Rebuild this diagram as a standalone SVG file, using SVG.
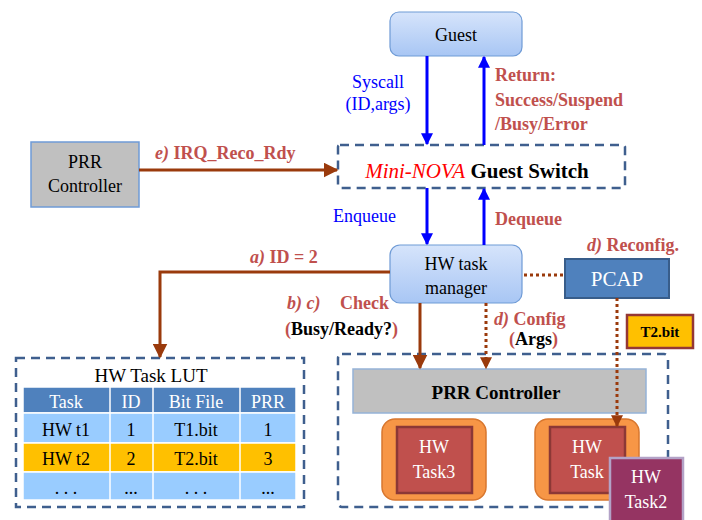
<svg xmlns="http://www.w3.org/2000/svg" width="702" height="520" viewBox="0 0 702 520" font-family="'Liberation Serif', 'DejaVu Serif', serif">
<defs>
<linearGradient id="gb" x1="0" y1="0" x2="0" y2="1">
<stop offset="0" stop-color="#d6e4fb"/>
<stop offset="1" stop-color="#a8c6f4"/>
</linearGradient>
<marker id="ab" viewBox="0 0 10 10" refX="9" refY="5" markerWidth="4" markerHeight="4" orient="auto-start-reverse" markerUnits="strokeWidth">
<path d="M0,0 L10,5 L0,10 z" fill="#0000ff"/>
</marker>
<marker id="ar" viewBox="0 0 10 10" refX="9" refY="5" markerWidth="5" markerHeight="5" orient="auto" markerUnits="strokeWidth">
<path d="M0,0 L10,5 L0,10 z" fill="#9a3a0c"/>
</marker>
<marker id="ar2" viewBox="0 0 10 10" refX="9" refY="5" markerWidth="4" markerHeight="5" orient="auto" markerUnits="strokeWidth">
<path d="M0,0 L10,5 L0,10 z" fill="#9a3a0c"/>
</marker>
</defs>
<style>
text, tspan { font-family: 'Liberation Serif', 'DejaVu Serif', serif; }
.blue{stroke:#0000ff;stroke-width:3;fill:none}
.br{stroke:#9a3a0c;stroke-width:3;fill:none}
.dot{stroke:#9a3a0c;stroke-width:3;stroke-dasharray:3 3;fill:none}
.dash{stroke:#3f5f8e;stroke-width:2.5;stroke-dasharray:9 6;fill:none}
.lbl{fill:#c0504d;font-weight:bold;font-size:18px}
.bl{fill:#0000ff;font-size:18px}
.w{fill:#ffffff}
.c{text-anchor:middle}
</style>

<g id="guest">
<rect x="390" y="12" width="132" height="44" rx="9" fill="url(#gb)" stroke="#6f9bd6" stroke-width="1.2"/>
<text x="456" y="41" class="c" font-size="18">Guest</text>
</g>

<g id="guest-switch">
<rect x="338" y="145" width="287" height="43" rx="2" class="dash"/>
<text x="477" y="178" class="c" font-size="21"><tspan fill="#ff0000" font-style="italic">Mini-NOVA</tspan><tspan font-weight="bold" fill="#000"> Guest Switch</tspan></text>
</g>

<g id="prr-left">
<rect x="31" y="142" width="108" height="65" fill="#c0c0c0" stroke="#6f9bd6" stroke-width="1.5"/>
<text x="85" y="168" class="c" font-size="18">PRR</text>
<text x="85" y="192" class="c" font-size="18">Controller</text>
</g>

<g id="hw-task-manager">
<rect x="390" y="245" width="132" height="58" rx="10" fill="url(#gb)" stroke="#6f9bd6" stroke-width="1.2"/>
<text x="456" y="270" class="c" font-size="18">HW task</text>
<text x="456" y="294" class="c" font-size="18">manager</text>
</g>

<g id="pcap">
<rect x="565" y="259" width="104" height="39" fill="#4f81bd" stroke="#385d8a" stroke-width="2"/>
<text x="617" y="286" class="c w" font-size="21">PCAP</text>
</g>

<g id="t2bit">
<rect x="627" y="315" width="66" height="33" fill="#ffc000" stroke="#953734" stroke-width="2.5"/>
<text x="660" y="337" class="c" font-size="15" font-weight="bold">T2.bit</text>
</g>

<g id="lut">
<rect x="16" y="358" width="288" height="149" class="dash"/>
<text x="151" y="382" class="c" font-size="19">HW Task LUT</text>
<g stroke="#ffffff" stroke-width="1.5">
<rect x="23" y="387" width="273" height="26" fill="#4f81bd"/>
<rect x="23" y="413" width="273" height="30" fill="#99ccff"/>
<rect x="23" y="443" width="273" height="29" fill="#ffc000"/>
<rect x="23" y="472" width="273" height="28" fill="#99ccff"/>
<line x1="110" y1="387" x2="110" y2="500"/>
<line x1="153" y1="387" x2="153" y2="500"/>
<line x1="240" y1="387" x2="240" y2="500"/>
</g>
<g font-size="18">
<text x="66" y="408" class="c w">Task</text>
<text x="131" y="408" class="c w">ID</text>
<text x="196" y="408" class="c w">Bit File</text>
<text x="268" y="408" class="c w">PRR</text>
<text x="66" y="436" class="c">HW t1</text>
<text x="131" y="436" class="c">1</text>
<text x="196" y="436" class="c">T1.bit</text>
<text x="268" y="436" class="c">1</text>
<text x="66" y="465" class="c">HW t2</text>
<text x="131" y="465" class="c">2</text>
<text x="196" y="465" class="c">T2.bit</text>
<text x="268" y="465" class="c">3</text>
<text x="66" y="494" class="c">. . .</text>
<text x="131" y="494" class="c">...</text>
<text x="196" y="494" class="c">. . .</text>
<text x="268" y="494" class="c">...</text>
</g>
</g>

<g id="prr-region">
<rect x="338" y="354" width="330" height="153" rx="4" class="dash"/>
<rect x="353" y="369" width="293" height="44" fill="#c0c0c0" stroke="#95b3d7" stroke-width="1.5"/>
<text x="496" y="399" class="c" font-size="19" font-weight="bold">PRR Controller</text>
</g>

<g id="hw-task3">
<rect x="382" y="419" width="104" height="81" rx="13" fill="#f79646" stroke="#d8772f" stroke-width="1.5"/>
<rect x="397" y="427" width="75" height="66" fill="#c0504d" stroke="#8c3836" stroke-width="2.5"/>
<text x="434" y="453" class="c w" font-size="18">HW</text>
<text x="434" y="478" class="c w" font-size="18">Task3</text>
</g>

<g id="hw-task">
<rect x="535" y="419" width="104" height="81" rx="13" fill="#f79646" stroke="#d8772f" stroke-width="1.5"/>
<rect x="550" y="427" width="75" height="66" fill="#c0504d" stroke="#8c3836" stroke-width="2.5"/>
<text x="587" y="453" class="c w" font-size="18">HW</text>
<text x="587" y="478" class="c w" font-size="18">Task</text>
</g>

<g id="hw-task2">
<rect x="610" y="458" width="73" height="66" fill="#953462" stroke="#b3a2c7" stroke-width="2.5"/>
<text x="646" y="483" class="c w" font-size="18">HW</text>
<text x="646" y="508" class="c w" font-size="18">Task2</text>
</g>

<g id="connectors">
<line x1="427" y1="56" x2="427" y2="144" class="blue" marker-end="url(#ab)"/>
<line x1="484" y1="145" x2="484" y2="57" class="blue" marker-end="url(#ab)"/>
<line x1="427" y1="188" x2="427" y2="244" class="blue" marker-end="url(#ab)"/>
<line x1="484" y1="245" x2="484" y2="189" class="blue" marker-end="url(#ab)"/>
<line x1="139" y1="170" x2="337" y2="170" class="br" marker-end="url(#ar)"/>
<polyline points="390,272 160,272 160,357" class="br" marker-end="url(#ar)"/>
<line x1="420" y1="303" x2="420" y2="368" class="br" marker-end="url(#ar)"/>
<line x1="486" y1="303" x2="486" y2="368" class="dot" marker-end="url(#ar2)"/>
<line x1="524" y1="275" x2="563" y2="275" class="dot"/>
<line x1="617" y1="298" x2="617" y2="426" class="dot" marker-end="url(#ar2)"/>
</g>

<g id="labels">
<text x="378" y="88" class="c bl">Syscall</text>
<text x="378" y="110" class="c bl">(ID,args)</text>
<text x="495" y="81" class="lbl">Return:</text>
<text x="495" y="106" class="lbl">Success/Suspend</text>
<text x="495" y="130" class="lbl">/Busy/Error</text>
<text x="155" y="159" class="lbl"><tspan font-style="italic">e)</tspan> IRQ_Reco_Rdy</text>
<text x="333" y="222" class="bl">Enqueue</text>
<text x="495" y="225" class="lbl">Dequeue</text>
<text x="250" y="263" class="lbl"><tspan font-style="italic">a)</tspan> ID = 2</text>
<text x="587" y="251" class="lbl"><tspan font-style="italic">d)</tspan> Reconfig.</text>
<text x="287" y="309" class="lbl"><tspan font-style="italic">b) c)</tspan><tspan x="340">Check</tspan></text>
<text x="285" y="335" class="lbl" font-size="15">(<tspan fill="#000">Busy/Ready?</tspan>)</text>
<text x="494" y="325" class="lbl"><tspan font-style="italic">d)</tspan> Config</text>
<text x="509" y="345" class="lbl" font-size="14">(<tspan fill="#000">Args</tspan>)</text>
</g>
</svg>
